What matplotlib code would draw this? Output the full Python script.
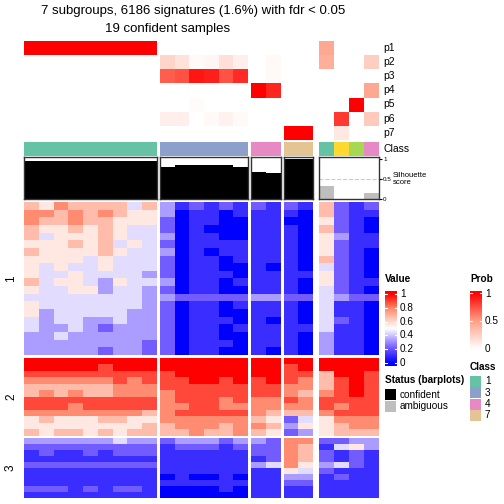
import matplotlib
matplotlib.use("Agg")
import matplotlib.pyplot as plt
import numpy as np
from matplotlib.colors import LinearSegmentedColormap

plt.rcParams["font.family"] = ["Liberation Sans", "DejaVu Sans"]

W = H = 504

# columns: 9 x class 1, 6 x class 3, 2 x class 4, 2 x class 7, then 4 ambiguous samples
group_sizes = [9, 6, 2, 2, 4]
sample_class = [1] * 9 + [3] * 6 + [4] * 2 + [7] * 2 + [1, 6, 5, 4]
class_colors = {1: "#66C2A5", 3: "#8DA0CB", 4: "#E78AC3", 5: "#A6D854", 6: "#FFD92F", 7: "#E5C494"}
confident = [True] * 19 + [False] * 4

prob_labels = ["p1", "p2", "p3", "p4", "p5", "p6", "p7"]
p1 = [1, 1, 1, 1, 1, 1, 1, 1, 1, 0, 0, 0, 0, 0, 0, 0, 0, 0, 0, 0.45, 0, 0, 0]
p2 = [0] * 9 + [0.22, 0.15, 0.03, 0.05, 0.16, 0.08, 0, 0.03, 0, 0, 0.42, 0, 0, 0.25]
p3 = [0] * 9 + [0.7, 0.74, 0.93, 0.9, 0.74, 0.86, 0, 0.03, 0, 0, 0, 0, 0, 0]
p4 = [0] * 9 + [0, 0, 0, 0, 0, 0, 1.0, 0.88, 0, 0, 0, 0, 0, 0.45]
p5 = [0] * 9 + [0, 0, 0.02, 0, 0, 0, 0, 0, 0, 0, 0, 0, 1.0, 0]
p6 = [0] * 9 + [0.08, 0.08, 0, 0.03, 0.07, 0.03, 0, 0, 0, 0, 0, 0.82, 0, 0.28]
p7 = [0] * 9 + [0, 0, 0, 0, 0, 0, 0, 0, 1, 1, 0, 0.12, 0, 0]

silhouette = [0.96] * 9 + [0.81, 0.84, 0.84, 0.84, 0.84, 0.81] + [0.68, 0.65] + [0.99, 0.99] + [0.32, 0, 0, 0.15]

# heatmap bands, one digit per sample (0 = blue, 9 = red), groups separated by spaces
rows_cluster1 = [
    "657666646 312121 21 21 6212",
    "776767655 301101 11 10 6211",
    "766766555 201100 11 00 5210",
    "655656544 201000 11 10 6210",
    "645556544 301100 11 10 5311",
    "555656454 201111 11 10 5211",
    "655556544 301011 11 10 5210",
    "555545444 201101 11 10 6210",
    "545445444 201100 10 10 4210",
    "544544443 201110 11 11 5210",
    "645543544 301101 11 10 5211",
    "544553443 201100 11 10 4210",
    "444444443 322222 33 22 4322",
    "544444443 201101 11 10 4110",
    "534444433 201100 11 10 4110",
    "434433433 201110 10 10 4210",
    "433432333 201101 11 11 4110",
    "334333333 201100 11 10 3110",
    "333333332 201110 11 10 3110",
    "333332332 201100 10 10 3110",
]
rows_cluster2 = [
    "999999999 999999 99 99 9999",
    "999998999 999999 99 89 9999",
    "888888888 899999 99 88 6998",
    "777777878 889989 89 87 6898",
    "666666777 888888 88 77 6898",
    "676766777 788888 88 76 7898",
    "888888888 788878 77 87 8888",
    "888788888 778877 77 77 8788",
    "777777776 788888 76 66 7888",
    "565556655 777777 65 24 5777",
    "555555556 677767 76 35 5677",
    "656656566 667667 65 23 5666",
]
rows_cluster3 = [
    "333333433 233323 32 77 2233",
    "222222222 122212 22 76 1453",
    "121121222 111111 22 76 2121",
    "111111111 111111 12 76 2121",
    "222222222 111111 34 75 3421",
    "111111111 111111 11 54 2111",
    "111111111 010010 11 33 1211",
    "111111111 111111 11 22 1111",
    "222121221 000010 11 11 1111",
    "111111111 000000 11 11 1111",
]

# layout in pixels
group_x = [(24, 157), (160, 248), (251, 281), (284, 313), (319, 379)]
cluster_y = [(202, 355), (358, 436), (438, 498)]

value_cmap = LinearSegmentedColormap.from_list(
    "value", [(0, "#0000FF"), (0.2, "#6A52FF"), (0.35, "#B4A6FF"), (0.5, "#FFFFFF"),
              (0.65, "#FFC4B4"), (0.8, "#FF8468"), (1, "#FF0000")])
prob_cmap = LinearSegmentedColormap.from_list(
    "prob", [(0, "#FFFFFF"), (0.5, "#FF9F86"), (1, "#FF0000")])


def px_axes(fig, x0, y0, x1, y1):
    ax = fig.add_axes([x0 / W, 1 - y1 / H, (x1 - x0) / W, (y1 - y0) / H])
    return ax


def px_text(fig, x, y, s, **kw):
    fig.text(x / W, 1 - y / H, s, **kw)


def parse(rows):
    return np.array([[int(ch) for ch in r.replace(" ", "")] for r in rows]) / 9


fig = plt.figure(figsize=(W / 100, H / 100), dpi=100)

prob = np.array([p1, p2, p3, p4, p5, p6, p7])
clusters = [parse(rows_cluster1), parse(rows_cluster2), parse(rows_cluster3)]
starts = np.cumsum([0] + group_sizes)

for g, (x0, x1) in enumerate(group_x):
    a, b = starts[g], starts[g + 1]
    # probability rows
    ax = px_axes(fig, x0, 41, x1, 140)
    ax.imshow(prob[:, a:b], cmap=prob_cmap, vmin=0, vmax=1, aspect="auto", interpolation="nearest")
    ax.axis("off")
    # class row
    ax = px_axes(fig, x0, 142, x1, 156)
    for i, c in enumerate(sample_class[a:b]):
        ax.axvspan(i, i + 1, color=class_colors[c], lw=0)
    ax.set_xlim(0, b - a)
    ax.axis("off")
    # silhouette barplot
    ax = px_axes(fig, x0, 157, x1, 199)
    ax.axhline(0.5, color="#CCCCCC", ls="--", lw=0.8, zorder=0)
    cols = ["black" if confident[k] else "#BEBEBE" for k in range(a, b)]
    ax.bar(np.arange(b - a) + 0.5, silhouette[a:b], width=1, color=cols, zorder=1)
    ax.set_xlim(0, b - a)
    ax.set_ylim(0, 1.05)
    ax.set_xticks([])
    for sp in ax.spines.values():
        sp.set_color("#333333")
        sp.set_linewidth(1)
    if g == len(group_x) - 1:
        ax.yaxis.tick_right()
        ax.set_yticks([0, 0.5, 1], ["0", "0.5", "1"])
        ax.tick_params(axis="y", labelsize=4.5, length=2, pad=1)
    else:
        ax.set_yticks([])
    # heatmap body
    for r, (y0, y1) in enumerate(cluster_y):
        ax = px_axes(fig, x0, y0, x1, y1)
        ax.imshow(clusters[r][:, a:b], cmap=value_cmap, vmin=0, vmax=1, aspect="auto",
                  interpolation="nearest")
        ax.axis("off")

# titles
px_text(fig, 193, 11, "7 subgroups, 6186 signatures (1.6%) with fdr < 0.05", ha="center", va="center", fontsize=9.5)
px_text(fig, 168, 29, "19 confident samples", ha="center", va="center", fontsize=9.5)

# annotation names
for i, lab in enumerate(prob_labels):
    px_text(fig, 383, 48 + i * 14.1, lab, ha="left", va="center", fontsize=7.5)
px_text(fig, 383, 149, "Class", ha="left", va="center", fontsize=7.5)
px_text(fig, 393, 179, "Silhouette\nscore", ha="left", va="center", fontsize=5.5, linespacing=1.1)

# row cluster titles
for lab, (y0, y1) in zip(["1", "2", "3"], cluster_y):
    px_text(fig, 11, (y0 + y1) / 2, lab, ha="center", va="center", rotation=90, fontsize=8.5)

# Value legend
px_text(fig, 385, 279, "Value", ha="left", va="center", fontsize=7.2, fontweight="bold")
ax = px_axes(fig, 385, 291, 397, 366)
grad = np.linspace(-0.04, 1.04, 200)[:, None]
ax.imshow(grad, cmap=value_cmap, vmin=0, vmax=1, aspect="auto", origin="lower",
          extent=(0, 1, -0.04, 1.04))
for t in [0, 0.2, 0.4, 0.6, 0.8, 1]:
    ax.plot([0, 0.2], [t, t], color="white", lw=0.8)
    ax.plot([0.8, 1], [t, t], color="white", lw=0.8)
ax.set_xlim(0, 1)
ax.set_ylim(-0.04, 1.04)
ax.axis("off")
for t in [0, 0.2, 0.4, 0.6, 0.8, 1]:
    px_text(fig, 400, 363 - t * 69, f"{t:g}", ha="left", va="center", fontsize=7.2)

# Prob legend
px_text(fig, 470, 279, "Prob", ha="left", va="center", fontsize=7.2, fontweight="bold")
ax = px_axes(fig, 470, 291, 482, 351)
grad = np.linspace(-0.03, 1.03, 200)[:, None]
ax.imshow(grad, cmap=prob_cmap, vmin=0, vmax=1, aspect="auto", origin="lower",
          extent=(0, 1, -0.03, 1.03))
for t in [0, 0.5, 1]:
    ax.plot([0, 0.2], [t, t], color="white", lw=0.8)
    ax.plot([0.8, 1], [t, t], color="white", lw=0.8)
ax.set_xlim(0, 1)
ax.set_ylim(-0.03, 1.03)
ax.axis("off")
for t in [0, 0.5, 1]:
    px_text(fig, 485, 349 - t * 55, f"{t:g}", ha="left", va="center", fontsize=7.2)

# Class legend
px_text(fig, 470, 367, "Class", ha="left", va="center", fontsize=7.2, fontweight="bold")
for i, c in enumerate([1, 3, 4, 7]):
    y0 = 376 + i * 11.3
    ax = px_axes(fig, 470, y0, 481, y0 + 11)
    ax.set_facecolor(class_colors[c])
    ax.set_xticks([])
    ax.set_yticks([])
    for sp in ax.spines.values():
        sp.set_visible(False)
    px_text(fig, 485, y0 + 5.5, str(c), ha="left", va="center", fontsize=7.2)

# Status legend
px_text(fig, 385, 380, "Status (barplots)", ha="left", va="center", fontsize=7.2, fontweight="bold")
for i, (lab, col) in enumerate([("confident", "black"), ("ambiguous", "#BEBEBE")]):
    y0 = 389 + i * 11.5
    ax = px_axes(fig, 385, y0, 396, y0 + 11)
    ax.set_facecolor(col)
    ax.set_xticks([])
    ax.set_yticks([])
    for sp in ax.spines.values():
        sp.set_visible(False)
    px_text(fig, 400, y0 + 5.5, lab, ha="left", va="center", fontsize=7.2)

fig.savefig("out.png", dpi=100)
